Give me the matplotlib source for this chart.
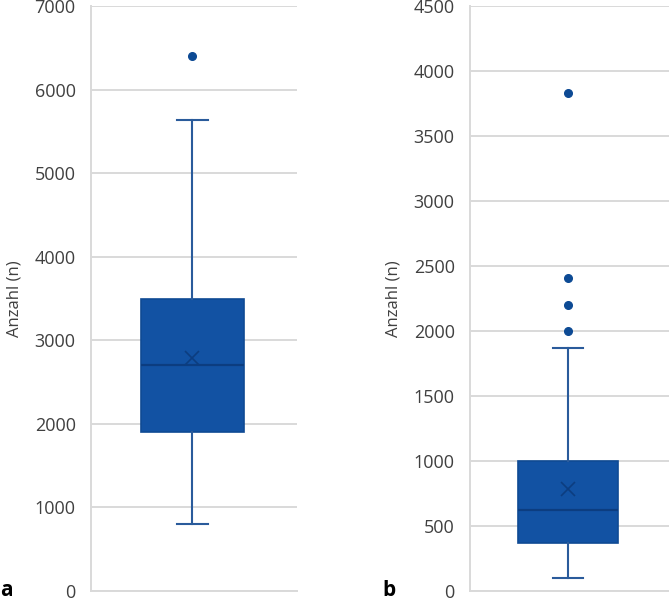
import matplotlib
matplotlib.use("Agg")
import matplotlib.pyplot as plt

# Panel a
a_whislo, a_q1, a_med, a_mean, a_q3, a_whishi = 800, 1900, 2710, 2790, 3500, 5640
a_fliers = [6400]
a_ticks = [0, 1000, 2000, 3000, 4000, 5000, 6000, 7000]

# Panel b
b_whislo, b_q1, b_med, b_mean, b_q3, b_whishi = 100, 370, 625, 787, 1003, 1872
b_fliers = [2000, 2200, 2405, 3830]
b_ticks = [0, 500, 1000, 1500, 2000, 2500, 3000, 3500, 4000, 4500]

ylabel = "Anzahl (n)"
panel_labels = ["a", "b"]

plt.rcParams['font.family'] = ['Open Sans', 'DejaVu Sans']

fig = plt.figure(figsize=(6.69, 6.0), dpi=100)
ax_a = fig.add_axes([91/669, 9/600, 206/669, 585/600])
ax_b = fig.add_axes([470/669, 9/600, 199/669, 585/600])

box_face = "#1252a3"
box_edge = "#0f4a94"
dark = "#0c3d80"
whisk = "#2a5b9b"
grid_c = "#d9d9d9"
text_c = "#404040"

def draw(ax, whislo, q1, med, mean, q3, whishi, fliers, ticks):
    stats = [dict(whislo=whislo, q1=q1, med=med, mean=mean, q3=q3,
                  whishi=whishi, fliers=fliers)]
    ax.bxp(stats, positions=[1], widths=1.02, patch_artist=True,
           showmeans=True, capwidths=0.30,
           boxprops=dict(facecolor=box_face, edgecolor=box_edge, linewidth=1.2),
           medianprops=dict(color=dark, linewidth=1.6),
           whiskerprops=dict(color=whisk, linewidth=1.5),
           capprops=dict(color=whisk, linewidth=1.5),
           meanprops=dict(marker='x', markeredgecolor=dark, markersize=10,
                          markeredgewidth=1.2, linestyle='none'),
           flierprops=dict(marker='o', markerfacecolor="#0d4a94",
                           markeredgecolor="#0d4a94", markersize=5.5))
    ax.set_xlim(0, 2.03)
    ax.set_ylim(ticks[0], ticks[-1])
    ax.set_yticks(ticks)
    ax.set_xticks([])
    ax.yaxis.grid(True, color=grid_c, linewidth=1.4)
    ax.set_axisbelow(True)
    for s in ['top', 'right']:
        ax.spines[s].set_visible(False)
    for s in ['left', 'bottom']:
        ax.spines[s].set_color(grid_c)
        ax.spines[s].set_linewidth(1.4)
    ax.tick_params(axis='y', length=0, pad=11, labelsize=13, labelcolor=text_c)
    ax.set_ylabel(ylabel, fontsize=12, color=text_c, labelpad=9)
    for lab in ax.get_yticklabels():
        lab.set_clip_on(False)

draw(ax_a, a_whislo, a_q1, a_med, a_mean, a_q3, a_whishi, a_fliers, a_ticks)
draw(ax_b, b_whislo, b_q1, b_med, b_mean, b_q3, b_whishi, b_fliers, b_ticks)

fig.text(0/669, 4/600, panel_labels[0], fontsize=15, fontweight='bold', color='black')
fig.text(382/669, 4/600, panel_labels[1], fontsize=15, fontweight='bold', color='black')

fig.savefig("out.png", dpi=100)
